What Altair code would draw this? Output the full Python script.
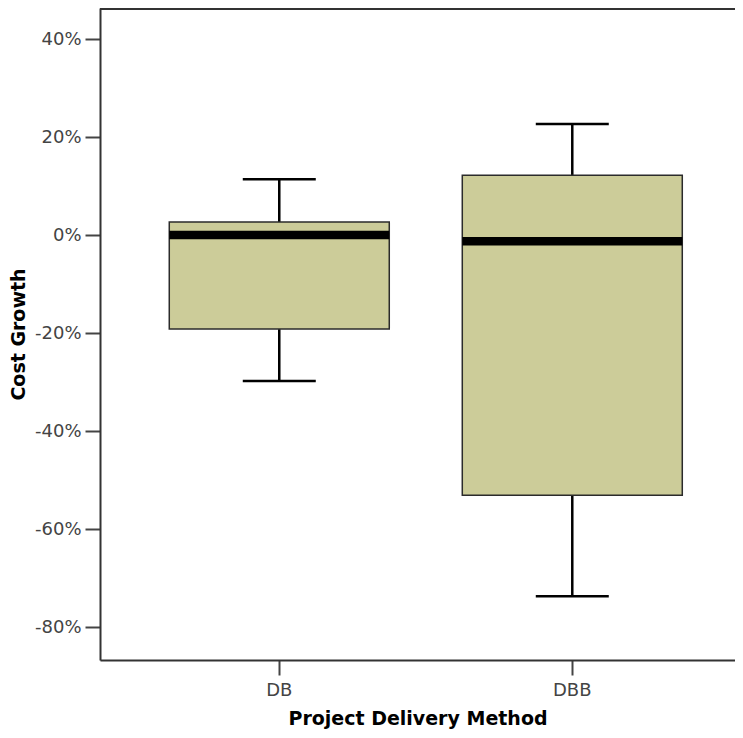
import altair as alt
import pandas as pd

# Box-plot statistics (fractions of cost growth)
methods = ["DB", "DBB"]
lower_whisker = [-0.298, -0.737]
q1 = [-0.192, -0.531]
median = [0.0, -0.0127]
q3 = [0.0265, 0.122]
upper_whisker = [0.114, 0.2265]

y_ticks = [-0.8, -0.6, -0.4, -0.2, 0.0, 0.2, 0.4]
y_domain = [-0.8673, 0.4633]

df = pd.DataFrame({
    "method": methods,
    "lower": lower_whisker,
    "q1": q1,
    "median": median,
    "q3": q3,
    "upper": upper_whisker,
})

W, H = 635, 652
FONT = "DejaVu Sans"

xscale = alt.Scale(domain=methods, paddingInner=0, paddingOuter=0.0836, align=0.669)
yscale = alt.Scale(domain=y_domain, nice=False, zero=False)

x_axis = alt.Axis(
    title="Project Delivery Method", labelAngle=0, tickSize=15, tickWidth=2,
    tickColor="#444444", domainColor="#333333", domainWidth=2,
    labelFont=FONT, labelFontSize=18, labelColor="#444444", labelPadding=6,
    titleFont=FONT, titleFontSize=19, titleFontWeight="bold", titleColor="black",
    titlePadding=10, grid=False,
)
y_axis = alt.Axis(
    title="Cost Growth", values=y_ticks, labelExpr="round(datum.value * 100) + '%'",
    tickSize=15, tickWidth=2, tickColor="#444444", domainColor="#333333", domainWidth=2,
    labelFont=FONT, labelFontSize=18, labelColor="#444444", labelPadding=4,
    titleFont=FONT, titleFontSize=19, titleFontWeight="bold", titleColor="black",
    titlePadding=6, grid=False,
)

X = alt.X("method:N", scale=xscale, sort=methods, axis=x_axis)
base = alt.Chart(df)

whisk_low = base.mark_rule(color="black", strokeWidth=2.5).encode(
    x=X, y=alt.Y("lower:Q", scale=yscale, axis=y_axis), y2="q1:Q")
whisk_up = base.mark_rule(color="black", strokeWidth=2.5).encode(
    x=X, y=alt.Y("q3:Q", scale=yscale, axis=y_axis), y2="upper:Q")
box = base.mark_bar(size=220, color="#cccc99", stroke="#2b2b2b", strokeWidth=1.5).encode(
    x=X, y=alt.Y("q1:Q", scale=yscale, axis=y_axis), y2="q3:Q")
med = base.mark_tick(size=220, thickness=8.5, color="black", opacity=1).encode(
    x=X, y=alt.Y("median:Q", scale=yscale, axis=y_axis))
cap_low = base.mark_tick(size=73, thickness=2.5, color="black", opacity=1).encode(
    x=X, y=alt.Y("lower:Q", scale=yscale, axis=y_axis))
cap_up = base.mark_tick(size=73, thickness=2.5, color="black", opacity=1).encode(
    x=X, y=alt.Y("upper:Q", scale=yscale, axis=y_axis))
top_line = base.mark_rule(color="#333333", strokeWidth=2).encode(
    x=alt.value(0), x2=alt.value(W), y=alt.value(1))

chart = alt.layer(whisk_low, whisk_up, box, med, cap_low, cap_up, top_line).properties(
    width=W, height=H,
    autosize=alt.AutoSizeParams(type="none"),
    padding={"left": 92, "top": 0, "right": 0, "bottom": 71},
).configure_view(stroke=None).configure(background="white")

chart.save("out.html", embed_options={"renderer": "svg", "actions": False})
